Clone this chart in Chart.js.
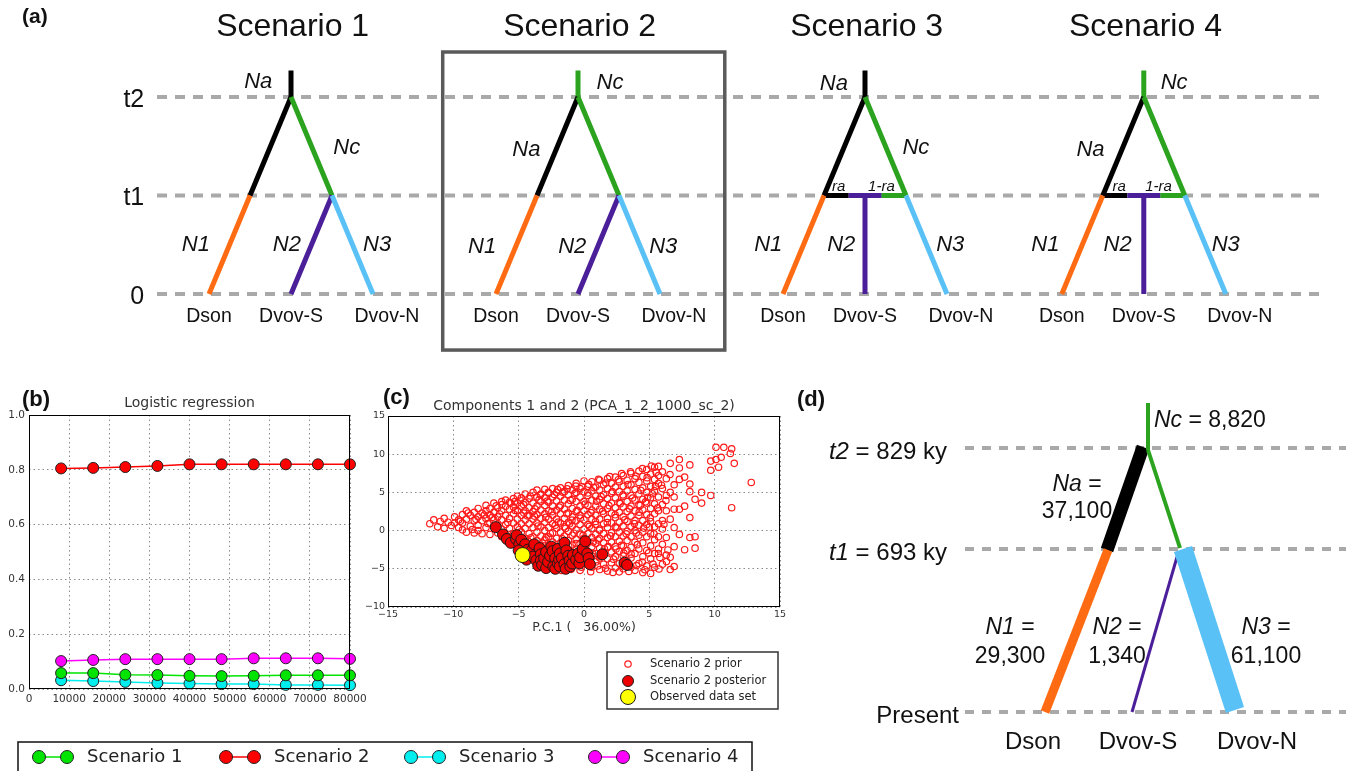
<!DOCTYPE html>
<html>
<head>
<meta charset="utf-8">
<script src="https://cdn.jsdelivr.net/npm/chart.js@4.4.1/dist/chart.umd.min.js"></script>
<style>
  html, body { margin: 0; padding: 0; background: #fff; }
  body { width: 1346px; height: 771px; position: relative; overflow: hidden; }
  canvas { position: absolute; }
  #treeChart { left: 0; top: 0; }
  #regChart { left: 0; top: 380px; }
  #pcaChart { left: 360px; top: 380px; }
  #postChart { left: 780px; top: 380px; }
</style>
</head>
<body>
<canvas id="treeChart" width="1346" height="360"></canvas>
<canvas id="regChart" width="760" height="391"></canvas>
<canvas id="pcaChart" width="440" height="340"></canvas>
<canvas id="postChart" width="566" height="391"></canvas>
<script>
const SANS = '"Liberation Sans", Arial, sans-serif';
const MPL = '"DejaVu Sans", sans-serif';

// ---------- (a) the four scenarios ----------
const scenarioNames = ['Scenario 1', 'Scenario 2', 'Scenario 3', 'Scenario 4'];
const scenarioOffsets = [0, 3.5, 7, 10.4];
const scenarioRoots = ['Na', 'Nc', 'Na', 'Nc'];
const scenarioTypes = ['split', 'split', 'admix', 'admix'];
const tipNames = ['Dson', 'Dvov-S', 'Dvov-N'];
const timeLabels = ['0', 't1', 't2'];
const timeLevels = [0, 1, 2];

// [x0, y0, x1, y1, population]
const splitBranches = [
  [1, 2.27, 1, 2, 'root'],
  [1, 2, 0.5, 1, 'Na'],
  [1, 2, 1.5, 1, 'Nc'],
  [0.5, 1, 0, 0, 'N1'],
  [1.5, 1, 1, 0, 'N2'],
  [1.5, 1, 2, 0, 'N3'],
];
const admixBranches = [
  [1, 2.27, 1, 2, 'root'],
  [1, 2, 0.5, 1, 'Na'],
  [1, 2, 1.5, 1, 'Nc'],
  [0.5, 1, 0.8, 1, 'Na'],
  [1.2, 1, 1.5, 1, 'Nc'],
  [1, 1, 1, 0, 'N2'],
  [0.8, 1, 1.2, 1, 'N2'],
  [0.5, 1, 0, 0, 'N1'],
  [1.5, 1, 2, 0, 'N3'],
];

// label positions inside each tree
const scenarioLabels = [
  [['Na', 0.6, 2.15], ['Nc', 1.68, 1.48], ['N1', -0.16, 0.5], ['N2', 0.95, 0.5], ['N3', 2.05, 0.5]],
  [['Nc', 1.39, 2.14], ['Na', 0.37, 1.46], ['N1', -0.17, 0.48], ['N2', 0.93, 0.48], ['N3', 2.04, 0.48]],
  [['Na', 0.62, 2.13], ['Nc', 1.62, 1.48], ['ra', 0.68, 1.09], ['1-ra', 1.2, 1.09],
   ['N1', -0.18, 0.5], ['N2', 0.71, 0.5], ['N3', 2.04, 0.5]],
  [['Nc', 1.37, 2.14], ['Na', 0.35, 1.46], ['ra', 0.7, 1.09], ['1-ra', 1.18, 1.09],
   ['N1', -0.2, 0.5], ['N2', 0.68, 0.5], ['N3', 2.0, 0.5]],
];

const popColors = { Na: '#000000', Nc: '#2ba31f', N1: '#ff6b12', N2: '#4b1f99', N3: '#5ac1f6' };
const dashGray = '#a9a9a9';

// ---------- (b) logistic regression ----------
const simCounts = [8000, 16000, 24000, 32000, 40000, 48000, 56000, 64000, 72000, 80000];
const probScenario1 = [0.058, 0.058, 0.052, 0.051, 0.048, 0.047, 0.048, 0.05, 0.05, 0.05];
const probScenario2 = [0.805, 0.807, 0.81, 0.814, 0.82, 0.82, 0.82, 0.82, 0.82, 0.82];
const probScenario3 = [0.032, 0.029, 0.026, 0.022, 0.02, 0.018, 0.018, 0.015, 0.015, 0.014];
const probScenario4 = [0.102, 0.106, 0.109, 0.109, 0.109, 0.109, 0.112, 0.112, 0.112, 0.11];
const regColors = ['#00e400', '#ff0000', '#00eeee', '#ff00ff'];

// ---------- (c) PCA of prior / posterior ----------
// prior simulations, read as columns [x, [y...]]
const priorColumns = [
  [-11.8, [0.9]], [-11.5, [1.4]], [-11.2, [0.5]], [-11.0, [1.2]], [-10.7, [1.6, 0.3]],
  [-10.4, [1.1]], [-9.9, [1.8, 1.0]], [-9.6, [1.4, 0.4]], [-9.3, [2.1, 1.0, 0.1]],
  [-9.0, [2.6, 1.5, -0.2]], [-8.7, [2.0, 0.6]], [-8.4, [2.4, 1.3, -0.3]],
  [-8.1, [2.9, 1.8, 0.7, 0.0]], [-7.8, [2.3, 1.3, -0.4]], [-7.5, [3.3, 2.6, 1.6, 0.4]],
  [-7.2, [2.9, 2.0, 1.0, -0.5]], [-6.9, [3.6, 2.4, 1.4, 0.5]], [-6.6, [3.0, 1.8, 0.9, -0.3]],
  [-6.3, [3.8, 2.6, 1.4, 0.2, -0.8]], [-6.0, [4.0, 3.2, 2.0, 0.8]],
  [-5.7, [3.7, 2.8, 1.6, 0.3, -1.1]], [-5.4, [4.2, 3.1, 2.2, 1.0, -0.4]],
  [-5.1, [4.5, 3.6, 2.6, 1.5, 0.5, -1.5]], [-4.8, [4.3, 3.2, 2.0, 0.9, -0.2]],
  [-4.5, [4.8, 3.7, 2.6, 1.4, 0.3, -1.0, -2.0]], [-4.2, [4.2, 3.0, 2.0, 0.9, -0.4]],
  [-3.9, [5.0, 3.6, 2.5, 1.5, 0.4, -0.8, -1.8]], [-3.6, [5.3, 4.4, 3.2, 2.1, 1.0, -0.2, -1.3]],
  [-3.3, [4.8, 3.8, 2.7, 1.6, 0.5, -0.7, -2.0, -3.0]],
  [-3.0, [5.4, 4.3, 3.3, 2.2, 1.1, 0.0, -1.2, -2.5, -4.0]],
  [-2.7, [4.9, 3.7, 2.6, 1.5, 0.4, -0.8, -1.9, -3.4]],
  [-2.4, [5.5, 4.4, 3.2, 2.0, 0.9, -0.3, -1.5, -2.7, -4.2]],
  [-2.1, [5.0, 3.9, 2.7, 1.5, 0.3, -1.0, -2.2, -3.6, -4.8]],
  [-1.8, [5.6, 4.5, 3.3, 2.2, 1.0, -0.2, -1.6, -2.8, -4.3]],
  [-1.5, [5.1, 4.0, 2.8, 1.6, 0.5, -0.7, -2.0, -3.3, -5.0]],
  [-1.2, [5.9, 4.7, 3.5, 2.3, 1.1, -0.1, -1.3, -2.6, -3.8]],
  [-0.9, [5.3, 4.1, 2.9, 1.8, 0.6, -0.6, -1.9, -3.2, -4.5]],
  [-0.6, [6.2, 5.0, 3.8, 2.5, 1.3, 0.1, -1.1, -2.4, -3.7]],
  [-0.3, [5.5, 4.4, 3.2, 2.0, 0.8, -0.5, -1.7, -3.0, -4.4, -5.2]],
  [0.0, [6.5, 5.1, 3.8, 2.6, 1.4, 0.2, -1.0, -2.2, -3.5]],
  [0.3, [5.8, 4.6, 3.3, 2.1, 0.8, -0.4, -1.6, -2.8, -4.2]],
  [0.6, [6.4, 5.2, 4.0, 2.7, 1.5, 0.3, -0.9, -2.1, -3.3, -4.8]],
  [0.9, [5.7, 4.5, 3.2, 2.0, 0.8, -0.5, -1.7, -3.0, -4.1]],
  [1.2, [6.6, 5.3, 4.1, 2.8, 1.5, 0.2, -1.0, -2.3, -3.6, -5.1]],
  [1.5, [6.0, 4.7, 3.5, 2.2, 0.9, -0.4, -1.6, -2.9, -4.4]],
  [1.8, [6.8, 5.5, 4.2, 2.9, 1.6, 0.4, -0.9, -2.2, -3.7, -5.3]],
  [2.1, [6.2, 4.9, 3.6, 2.3, 1.0, -0.3, -1.5, -2.8, -4.2]],
  [2.4, [7.0, 5.7, 4.3, 3.0, 1.7, 0.5, -0.8, -2.1, -3.4, -4.9]],
  [2.7, [6.4, 5.1, 3.7, 2.4, 1.1, -0.2, -1.4, -2.7, -4.3, -5.4]],
  [3.0, [7.2, 5.8, 4.5, 3.1, 1.8, 0.6, -0.7, -2.0, -3.3, -5.0]],
  [3.3, [6.6, 5.2, 3.8, 2.5, 1.2, -0.1, -1.3, -2.6, -4.0]],
  [3.6, [7.5, 6.0, 4.6, 3.2, 1.9, 0.5, -0.8, -2.2, -3.6, -4.8]],
  [3.9, [6.8, 5.4, 4.0, 2.6, 1.3, 0.0, -1.5, -3.0, -5.2]],
  [4.2, [7.8, 6.3, 4.8, 3.4, 2.0, 0.7, -0.6, -2.4, -4.3]],
  [4.5, [7.1, 5.6, 4.1, 2.7, 1.3, -0.2, -1.6, -3.4, -5.5]],
  [4.8, [8.0, 6.5, 5.0, 3.6, 2.1, 0.8, -0.8, -2.6, -4.6]],
  [5.1, [7.4, 5.8, 4.3, 2.9, 1.2, -0.4, -2.0, -3.7, -5.6]],
  [5.4, [8.3, 6.7, 5.2, 3.5, 2.2, 0.5, -1.2, -3.0, -4.8]],
  [5.7, [8.4, 7.2, 6.2, 4.4, 2.6, 0.9, -0.8, -2.4, -3.0]],
  [6.0, [7.7, 5.5, 3.4, 1.3, 0.2, -1.8, -4.4]],
  [6.3, [6.8, 4.6, 2.6, -0.9, -3.2]],
  [6.6, [8.8, 5.0, 1.5, -3.5, -5.1]],
  [6.9, [6.0, 4.4, 2.8, 0.4, -2.1, -4.7]],
  [7.3, [9.3, 8.2, 6.7, 2.8, -0.5]],
  [7.7, [7.0, 3.2, -2.5]],
  [8.1, [8.6, 6.1, 5.1, 1.7, -0.9]],
  [8.5, [4.1, -2.3, -0.8]],
  [9.0, [5.0, 3.6]],
  [9.7, [9.1, 7.9, 4.6]],
  [10.1, [10.9, 9.3]],
  [10.3, [8.3]], [10.5, [9.6]], [10.7, [10.9]], [11.2, [10.1]],
  [11.3, [10.7, 3.0]], [11.5, [8.8]], [12.8, [6.3]],
];
// prior simulations lying between the columns
const priorScattered = [
  [-5.83, 1.07], [-5.26, 2.63], [-4.97, 0.12], [-4.62, 3.41], [-4.35, 1.93], [-4.07, -0.93], [-3.76, 2.84],
  [-3.52, 0.61], [-3.44, 4.02], [-3.18, -1.62], [-2.93, 1.74], [-2.81, 3.86], [-2.58, -0.37], [-2.46, 2.48],
  [-2.27, 4.73], [-2.12, -2.93], [-1.97, 1.12], [-1.88, 3.09], [-1.66, -1.08], [-1.62, 5.03], [-1.41, 0.28],
  [-1.33, 2.21], [-1.17, -2.02], [-1.04, 3.95], [-0.92, 1.37], [-0.77, -0.34], [-0.71, 4.84], [-0.52, 2.66],
  [-0.44, -2.81], [-0.28, 1.63], [-0.16, 5.72], [-0.07, -0.62], [0.08, 3.46], [0.17, -1.83], [0.29, 4.93],
  [0.41, 0.57], [0.53, 2.36], [0.66, -3.02], [0.74, 5.63], [0.88, 1.19], [0.97, 3.84], [1.08, -1.22],
  [1.19, 0.03], [1.31, 4.46], [1.43, 2.53], [1.56, -2.37], [1.67, 6.23], [1.78, 1.04], [1.91, 3.27],
  [2.03, -0.68], [2.17, 5.12], [2.26, -3.74], [2.38, 2.07], [2.52, 0.37], [2.63, 6.66], [2.77, 3.53],
  [2.86, -1.93], [2.98, 4.68], [3.12, 1.42], [3.23, -0.42], [3.37, 6.03], [3.48, 2.86], [3.61, -3.08],
  [3.72, 4.27], [3.86, 0.93], [3.97, 7.12], [4.08, -1.84], [4.22, 2.41], [4.34, 5.27], [4.46, -4.13],
  [4.57, 0.33], [4.71, 3.77], [4.83, 6.93], [4.95, -2.92], [5.07, 1.67], [5.23, 4.83], [5.36, -0.41],
  [5.52, 7.63], [5.64, 2.98], [5.81, -3.51], [5.93, 5.94], [6.12, 0.82], [6.27, 3.94], [6.42, -2.53],
  [6.58, 7.34], [-6.46, 2.18], [-6.72, 3.24], [-7.02, 1.73], [-7.36, 0.93], [-7.63, 2.04], [-8.27, 1.47],
  [-8.55, 0.14], [-8.86, 2.31], [-9.47, 1.22], [-10.15, 0.67], [-6.16, -0.31], [-5.55, -0.73], [-4.3, -1.41],
  [-3.69, -2.53], [-3.07, -3.37], [-2.41, -4.59], [-1.72, -5.21], [-0.98, -5.07], [-0.21, -4.79], [0.51, -5.38],
  [1.03, -4.62], [1.64, -4.93], [2.21, -5.48], [2.94, -4.63], [3.43, -5.34], [4.02, -4.58], [4.66, -5.12],
  [5.28, -4.37], [5.74, -5.02], [6.31, -4.06], [0.36, 6.07], [-0.63, 5.83], [-1.29, 5.47], [-2.02, 5.36],
  [-2.73, 5.02], [-3.34, 4.67], [-4.11, 4.53], [-4.88, 3.98], [-5.61, 3.62], [-6.28, 3.41], [1.11, 6.72],
  [1.97, 7.08], [2.88, 7.46], [3.56, 7.71], [4.47, 8.13], [5.15, 8.44], [5.47, 5.77], [4.88, 4.36],
  [4.3, 3.3], [5.0, 0.45], [4.0, -0.3], [3.05, -2.95], [2.45, -2.4], [1.85, -2.1], [1.25, -3.4],
  [0.7, -1.5], [-0.6, -1.7], [-1.1, 0.9], [-2.2, 0.7], [-2.9, -0.9], [-3.8, 1.9], [-4.6, 2.3], [-5.3, 3.8],
];
const posteriorPoints = [
  [-6.75, 0.45], [-6.2, -0.5], [-5.9, -1.1], [-5.6, -1.6], [-5.2, -1.1], [-5.15, -0.6], [-4.95, -1.8],
  [-4.8, -1.2], [-4.5, -1.8], [-4.3, -2.5], [-4.65, -3.0], [-4.4, -3.8], [-5.0, -2.6], [-4.0, -2.6],
  [-3.8, -1.8], [-3.9, -3.4], [-3.65, -3.9], [-3.5, -4.6], [-3.4, -2.3], [-3.3, -3.1], [-3.3, -3.9],
  [-3.2, -4.5], [-3.05, -3.6], [-2.9, -2.8], [-2.9, -4.9], [-2.75, -4.1], [-2.6, -3.3], [-2.5, -2.1],
  [-2.4, -2.7], [-2.35, -4.7], [-2.2, -3.6], [-2.2, -5.0], [-2.0, -2.4], [-2.0, -4.3], [-1.9, -3.8],
  [-1.85, -3.0], [-1.85, -4.7], [-1.7, -3.6], [-1.5, -1.6], [-1.5, -4.4], [-1.4, -5.0], [-1.35, -2.6],
  [-1.2, -3.3], [-1.1, -3.9], [-1.05, -4.7], [-0.9, -4.3], [-0.85, -3.2], [-0.6, -3.8], [-0.45, -3.0],
  [-0.35, -4.3], [-0.3, -3.5], [-0.1, -2.4], [0.1, -1.4], [0.25, -3.0], [0.35, -3.6], [0.45, -4.4],
  [1.4, -3.1], [3.1, -4.2], [3.3, -4.5],
];
const observedPoint = [-4.7, -3.2];
const pcaLegend = ['Scenario 2 prior', 'Scenario 2 posterior', 'Observed data set'];

// ---------- (d) posterior estimates under scenario 2 ----------
// x in tree units, y in schematic time (present = 0)
const postLevels = [0, 1.63, 2.64];
const postTimeNames = ['Present', 't1', 't2'];
const postTimeValues = ['', '693 ky', '829 ky'];
const postBranches = [
  [0.98, 2.65, 0.62, 1.62, 'Na'],
  [1.03, 3.09, 1.03, 2.62, 'Nc'],
  [1.03, 2.62, 1.35, 1.64, 'Nc'],
  [0.63, 1.62, 0.0, 0.0, 'N1'],
  [1.32, 1.55, 0.87, 0.0, 'N2'],
  [1.38, 1.63, 1.9, 0.02, 'N3'],
];
const postNames = ['Nc', 'Na', 'N1', 'N2', 'N3'];
const postValues = ['8,820', '37,100', '29,300', '1,340', '61,100'];
const postWidths = { Na: 13, Nc: 4, N1: 9, N2: 3, N3: 19 };

// ---------- helpers ----------
function put(ctx, str, px, py, font, align, color) {
  ctx.font = font;
  ctx.fillStyle = color || '#111';
  ctx.textAlign = align || 'center';
  ctx.textBaseline = 'middle';
  ctx.fillText(str, px, py);
}

// parts: [[text, italic], ...]
function putMixed(ctx, parts, px, py, size, align) {
  const fonts = parts.map(([, it]) => `${it ? 'italic ' : ''}${size}px ${SANS}`);
  const widths = parts.map(([s], i) => { ctx.font = fonts[i]; return ctx.measureText(s).width; });
  const total = widths.reduce((a, b) => a + b, 0);
  let left = align === 'right' ? px - total : align === 'center' ? px - total / 2 : px;
  ctx.textAlign = 'left';
  ctx.textBaseline = 'middle';
  ctx.fillStyle = '#111';
  parts.forEach(([s], i) => {
    ctx.font = fonts[i];
    ctx.fillText(s, left, py);
    left += widths[i];
  });
}

function segment(x0, y0, x1, y1, color, width, extra) {
  return Object.assign({
    data: [{ x: x0, y: y0 }, { x: x1, y: y1 }],
    showLine: true,
    pointRadius: 0,
    borderColor: color,
    borderWidth: width,
    borderCapStyle: 'butt',
    clip: false,
  }, extra || {});
}

function diagramOptions(xmin, xmax, ymin, ymax) {
  return {
    responsive: false,
    animation: false,
    events: [],
    layout: { padding: 0 },
    plugins: { legend: { display: false }, tooltip: { enabled: false } },
    scales: {
      x: { type: 'linear', display: false, min: xmin, max: xmax },
      y: { type: 'linear', display: false, min: ymin, max: ymax },
    },
  };
}

// ---------- (a) ----------
const treeDatasets = [];
timeLevels.forEach((lv) => {
  treeDatasets.push(segment(-0.634, lv, 13.55, lv, dashGray, 4, { borderDash: [10, 8], order: 100 }));
});
scenarioNames.forEach((name, i) => {
  const off = scenarioOffsets[i];
  const branches = scenarioTypes[i] === 'split' ? splitBranches : admixBranches;
  branches.forEach(([x0, y0, x1, y1, pop], k) => {
    const p = pop === 'root' ? scenarioRoots[i] : pop;
    treeDatasets.push(segment(x0 + off, y0, x1 + off, y1, popColors[p], 5, { order: -k }));
  });
});

const treeText = {
  id: 'treeText',
  afterDatasetsDraw(chart) {
    const { ctx, scales: { x, y } } = chart;
    ctx.save();
    // scenario 2 is the one retained
    const off = scenarioOffsets[1];
    const bx0 = x.getPixelForValue(off - 0.65), bx1 = x.getPixelForValue(off + 2.79);
    const by0 = y.getPixelForValue(2.457), by1 = y.getPixelForValue(-0.569);
    ctx.strokeStyle = '#5a5a5a';
    ctx.lineWidth = 3.5;
    ctx.strokeRect(bx0, by0, bx1 - bx0, by1 - by0);

    put(ctx, '(a)', 22, 17, `bold 21px ${SANS}`, 'left');
    timeLabels.forEach((t, i) => {
      put(ctx, t, x.getPixelForValue(-0.79), y.getPixelForValue(timeLevels[i]) + 3, `25px ${SANS}`, 'right');
    });
    scenarioNames.forEach((name, i) => {
      const off = scenarioOffsets[i];
      put(ctx, name, x.getPixelForValue(off + 1.02), y.getPixelForValue(2.71), `32px ${SANS}`, 'center');
      tipNames.forEach((tip, k) => {
        const dx = k === 2 ? 0.17 : 0;
        put(ctx, tip, x.getPixelForValue(off + k + dx), y.getPixelForValue(-0.225), `19.5px ${SANS}`, 'center');
      });
      scenarioLabels[i].forEach(([lab, lx, ly]) => {
        const small = lab.indexOf('ra') >= 0;
        put(ctx, lab, x.getPixelForValue(off + lx), y.getPixelForValue(ly),
          `italic ${small ? 15 : 22}px ${SANS}`, 'center');
      });
    });
    ctx.restore();
  },
};

new Chart(document.getElementById('treeChart'), {
  type: 'scatter',
  data: { datasets: treeDatasets },
  options: diagramOptions(-2.549, 13.866, -0.670, 2.985),
  plugins: [treeText],
});

// ---------- (b) ----------
const regSeries = [probScenario1, probScenario2, probScenario3, probScenario4];

const regDecor = {
  id: 'regDecor',
  afterDraw(chart) {
    const { ctx, chartArea: a } = chart;
    ctx.save();
    ctx.strokeStyle = '#000';
    ctx.lineWidth = 1;
    ctx.strokeRect(a.left + 0.5, a.top + 0.5, a.right - a.left - 1, a.bottom - a.top - 1);
    put(ctx, 'Logistic regression', (a.left + a.right) / 2, 23, `14px ${MPL}`, 'center', '#333');
    put(ctx, '(b)', 22, 20, `bold 22px ${SANS}`, 'left');

    // legend shared by the line plot, drawn along the bottom
    ctx.strokeStyle = '#111';
    ctx.lineWidth = 1.5;
    ctx.strokeRect(18, 362, 734, 40);
    const textX = [87, 274, 459, 643];
    chart.data.datasets.forEach((ds, i) => {
      const ly = 377;
      const m0 = textX[i] - 48, m1 = textX[i] - 20;
      ctx.strokeStyle = ds.borderColor;
      ctx.lineWidth = 1.5;
      ctx.beginPath();
      ctx.moveTo(m0, ly);
      ctx.lineTo(m1, ly);
      ctx.stroke();
      [m0, m1].forEach((mx) => {
        ctx.beginPath();
        ctx.arc(mx, ly, 6.5, 0, Math.PI * 2);
        ctx.fillStyle = ds.pointBackgroundColor;
        ctx.fill();
        ctx.strokeStyle = '#222';
        ctx.lineWidth = 1;
        ctx.stroke();
      });
      put(ctx, ds.label, textX[i], ly, `18px ${MPL}`, 'left', '#222');
    });
    ctx.restore();
  },
};

const gridStyle = { color: '#8a8a8a', lineWidth: 1, drawTicks: false, borderDash: [1.5, 3] };
const borderStyle = { display: false, dash: [1.5, 3] };

new Chart(document.getElementById('regChart'), {
  type: 'scatter',
  data: {
    datasets: regSeries.map((vals, i) => ({
      label: scenarioNames[i],
      data: simCounts.map((n, k) => ({ x: n, y: vals[k] })),
      showLine: true,
      borderColor: regColors[i],
      borderWidth: 1.5,
      pointRadius: 5.5,
      pointBackgroundColor: regColors[i],
      pointBorderColor: '#222',
      pointBorderWidth: 1,
      clip: false,
    })),
  },
  options: {
    responsive: false,
    animation: false,
    events: [],
    layout: { padding: { left: 0, top: 35, right: 410, bottom: 62 } },
    plugins: { legend: { display: false }, tooltip: { enabled: false } },
    scales: {
      x: {
        type: 'linear', min: 0, max: 80000,
        afterFit: (s) => { s.height = 20; },
        ticks: {
          stepSize: 10000, padding: 4, color: '#333', autoSkip: false, maxRotation: 0, minRotation: 0,
          font: { family: MPL, size: 10.5 }, callback: (v) => String(v),
        },
        grid: gridStyle,
        border: borderStyle,
      },
      y: {
        type: 'linear', min: 0, max: 1,
        afterFit: (s) => { s.width = 29; },
        ticks: {
          stepSize: 0.2, padding: 4, color: '#333',
          font: { family: MPL, size: 10.5 }, callback: (v) => v.toFixed(1),
        },
        grid: gridStyle,
        border: borderStyle,
      },
    },
  },
  plugins: [regDecor],
});

// ---------- (c) ----------
const priorPoints = priorColumns
  .flatMap(([px, ys]) => ys.map((py) => ({ x: px, y: py })))
  .concat(priorScattered.map(([px, py]) => ({ x: px, y: py })));
const minus = (v) => String(v).replace('-', '\u2212');

const pcaDecor = {
  id: 'pcaDecor',
  afterDraw(chart) {
    const { ctx, chartArea: a } = chart;
    ctx.save();
    ctx.strokeStyle = '#000';
    ctx.lineWidth = 1;
    ctx.strokeRect(a.left + 0.5, a.top + 0.5, a.right - a.left - 1, a.bottom - a.top - 1);
    const cx = (a.left + a.right) / 2;
    put(ctx, 'Components 1 and 2 (PCA_1_2_1000_sc_2)', cx, 26, `14px ${MPL}`, 'center', '#333');
    put(ctx, 'P.C.1 (   36.00%)', cx, 248, `12.5px ${MPL}`, 'center', '#333');
    put(ctx, '(c)', 23, 18, `bold 22px ${SANS}`, 'left');

    ctx.strokeStyle = '#333';
    ctx.lineWidth = 1.5;
    ctx.strokeRect(247, 272, 171, 57);
    const rows = [284, 301, 317];
    const marks = chart.data.datasets.slice().sort((p, q) => q.order - p.order);
    marks.forEach((ds, i) => {
      ctx.beginPath();
      ctx.arc(268, rows[i], ds.pointRadius, 0, Math.PI * 2);
      ctx.fillStyle = ds.pointBackgroundColor;
      ctx.fill();
      ctx.strokeStyle = ds.pointBorderColor;
      ctx.lineWidth = ds.pointBorderWidth;
      ctx.stroke();
      put(ctx, pcaLegend[i], 290, rows[i], `11.5px ${MPL}`, 'left', '#222');
    });
    ctx.restore();
  },
};

new Chart(document.getElementById('pcaChart'), {
  type: 'scatter',
  data: {
    datasets: [
      {
        label: pcaLegend[0], data: priorPoints, order: 3,
        pointRadius: 3.2, pointBorderWidth: 1.2, pointBorderColor: '#ff1a1a',
        pointBackgroundColor: 'rgba(255,255,255,0)',
      },
      {
        label: pcaLegend[1], data: posteriorPoints.map(([px, py]) => ({ x: px, y: py })), order: 2,
        pointRadius: 5.5, pointBorderWidth: 1, pointBorderColor: '#1a1a1a', pointBackgroundColor: '#ee0000',
      },
      {
        label: pcaLegend[2], data: [{ x: observedPoint[0], y: observedPoint[1] }], order: 1,
        pointRadius: 7.5, pointBorderWidth: 1, pointBorderColor: '#1a1a1a', pointBackgroundColor: '#ffff00',
      },
    ],
  },
  options: {
    responsive: false,
    animation: false,
    events: [],
    layout: { padding: { left: 0, top: 36, right: 20, bottom: 95 } },
    plugins: { legend: { display: false }, tooltip: { enabled: false } },
    scales: {
      x: {
        type: 'linear', min: -15, max: 15,
        afterFit: (s) => { s.height = 18; },
        ticks: { stepSize: 5, padding: 2, color: '#333', maxRotation: 0, font: { family: MPL, size: 9.5 }, callback: minus },
        grid: gridStyle,
        border: borderStyle,
      },
      y: {
        type: 'linear', min: -10, max: 15,
        afterFit: (s) => { s.width = 28; },
        ticks: { stepSize: 5, padding: 3, color: '#333', font: { family: MPL, size: 9.5 }, callback: minus },
        grid: gridStyle,
        border: borderStyle,
      },
    },
  },
  plugins: [pcaDecor],
});

// ---------- (d) ----------
const postDatasets = [];
postLevels.forEach((lv) => {
  postDatasets.push(segment(-0.8, lv, 3.1, lv, dashGray, 4, { borderDash: [9, 8], order: 100 }));
});
postBranches.forEach(([x0, y0, x1, y1, pop], k) => {
  postDatasets.push(segment(x0, y0, x1, y1, popColors[pop], postWidths[pop], { order: -k }));
});

// where each estimate is written: [x, y of name line, y of value line]
const postLabelAt = [[1.09, 2.91, 2.91], [0.32, 2.27, 2.0], [-0.35, 0.84, 0.55], [0.72, 0.84, 0.55], [2.21, 0.84, 0.55]];
const postTipX = [-0.12, 0.93, 2.12];

const postText = {
  id: 'postText',
  afterDatasetsDraw(chart) {
    const { ctx, scales: { x, y } } = chart;
    ctx.save();
    put(ctx, '(d)', 17, 20, `bold 22px ${SANS}`, 'left');
    postTimeNames.forEach((nm, i) => {
      const py = y.getPixelForValue(postLevels[i]) + 4;
      if (i === 0) {
        put(ctx, nm, x.getPixelForValue(-0.86), py, `24px ${SANS}`, 'right');
      } else {
        putMixed(ctx, [[nm, true], [' = ' + postTimeValues[i], false]], x.getPixelForValue(-0.98), py, 24, 'right');
      }
    });
    postNames.forEach((nm, i) => {
      const [lx, ly, vy] = postLabelAt[i];
      if (i === 0) {
        putMixed(ctx, [[nm, true], [' = ' + postValues[i], false]], x.getPixelForValue(lx), y.getPixelForValue(ly), 23, 'left');
      } else {
        putMixed(ctx, [[nm, true], [' =', false]], x.getPixelForValue(lx), y.getPixelForValue(ly), 23, 'center');
        put(ctx, postValues[i], x.getPixelForValue(lx), y.getPixelForValue(vy), `23px ${SANS}`, 'center');
      }
    });
    tipNames.forEach((tip, k) => {
      put(ctx, tip, x.getPixelForValue(postTipX[k]), y.getPixelForValue(-0.3), `24px ${SANS}`, 'center');
    });
    ctx.restore();
  },
};

new Chart(document.getElementById('postChart'), {
  type: 'scatter',
  data: { datasets: postDatasets },
  options: diagramOptions(-2.65, 3.01, -0.59, 3.32),
  plugins: [postText],
});
</script>
</body>
</html>
